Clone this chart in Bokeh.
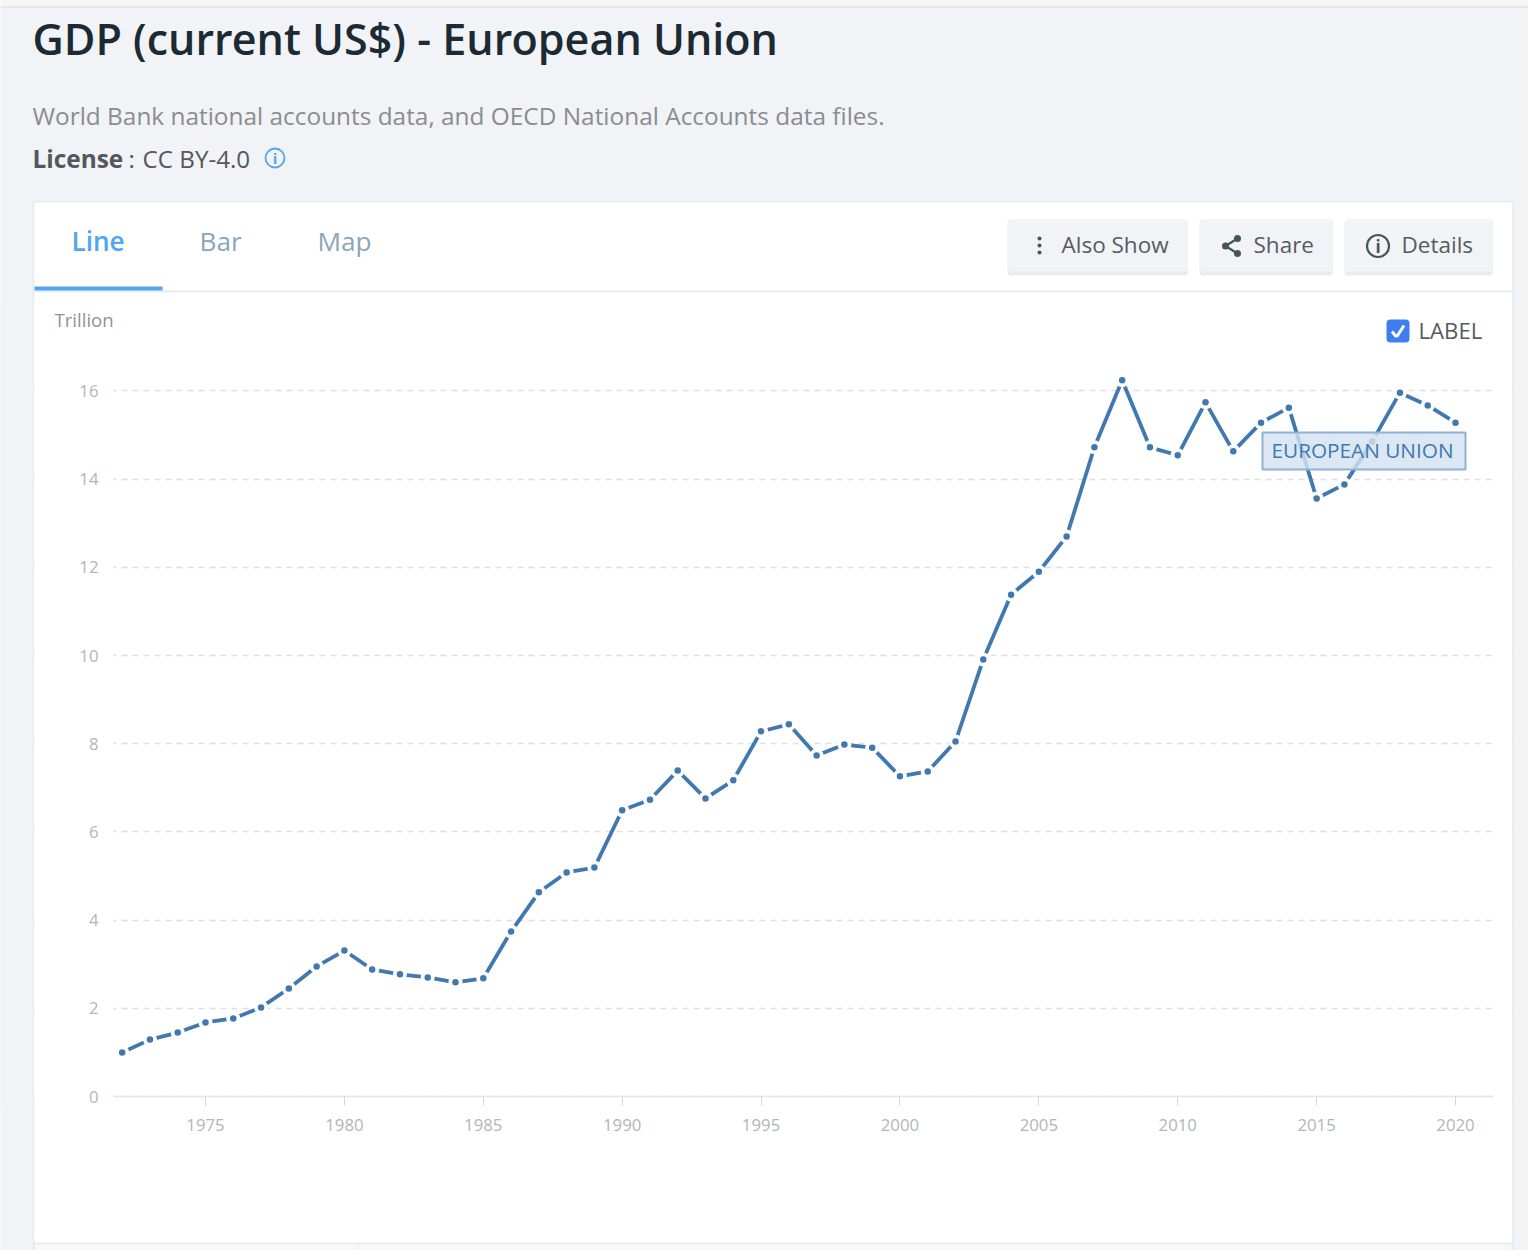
import math
from bokeh.plotting import figure
from bokeh.embed import file_html
from bokeh.resources import INLINE
from bokeh.models import Label, BoxAnnotation, PolyAnnotation, Range1d, FixedTicker, ColumnDataSource

years = list(range(1972, 2021))
gdp_trillion = [1.00, 1.29, 1.45, 1.68, 1.77, 2.02, 2.45, 2.95, 3.31, 2.88,
                2.77, 2.70, 2.59, 2.68, 3.74, 4.63, 5.08, 5.19, 6.49, 6.73,
                7.39, 6.76, 7.17, 8.28, 8.44, 7.73, 7.98, 7.91, 7.26, 7.37,
                8.05, 9.91, 11.38, 11.90, 12.70, 14.72, 16.24, 14.72, 14.54, 15.74,
                14.63, 15.28, 15.62, 13.56, 13.88, 14.85, 15.96, 15.67, 15.28]
x_ticks = [1975, 1980, 1985, 1990, 1995, 2000, 2005, 2010, 2015, 2020]
y_ticks = [0, 2, 4, 6, 8, 10, 12, 14, 16]

FONT = "Open Sans"
W, H = 1528, 1250
PAGE = "#f1f3f7"
LINE = "#4079b0"

# calibration of the plot area, in picture pixels
PX_PER_YEAR = 27.778
PX_PER_UNIT = 44.1
X_1975, Y_0 = 205.0, 1096.0
def yr(px): return 1975 + (px - X_1975) / PX_PER_YEAR
def val(py): return (Y_0 - py) / PX_PER_UNIT

p = figure(width=W, height=H, output_backend="svg", toolbar_location=None,
           x_range=Range1d(yr(0), yr(W)), y_range=Range1d(val(H), val(0)),
           min_border_left=0, min_border_right=0, min_border_top=0, min_border_bottom=0,
           border_fill_color=PAGE, background_fill_color=PAGE, outline_line_color=None)

# ---- chrome ----
def box(l, t, r, b, fill, line=None, lw=1, radius=0, alpha=1.0, level="image"):
    p.add_layout(BoxAnnotation(left=l, right=r, top=t, bottom=b,
                 left_units="canvas", right_units="canvas", top_units="canvas", bottom_units="canvas",
                 fill_color=fill, fill_alpha=alpha if fill else 0, line_color=line, line_alpha=1, line_width=lw,
                 border_radius=int(math.ceil(radius)), level=level, editable=False))

def text(x, y, s, size, color, style="normal", align="left", font=FONT, level="overlay"):
    p.add_layout(Label(x=x-1, y=y-1, x_units="canvas", y_units="canvas", text=s,
                 text_font=font, text_font_size=f"{size}px", text_color=color, text_font_style=style,
                 text_align=align, text_baseline="middle", level=level))

def poly(xs, ys, fill=None, line=None, lw=1.0):
    p.add_layout(PolyAnnotation(xs=xs, ys=ys, xs_units="canvas", ys_units="canvas",
                 fill_color=fill, fill_alpha=1 if fill else 0, line_color=line, line_alpha=1, line_width=lw,
                 level="annotation", editable=False))

def dot(cx, cy, r, fill, line=None, lw=1):
    box(cx-r, cy-r, cx+r, cy+r, fill, line, lw, radius=r, level="annotation")

box(0, 0, W, 6, "#f7f4f5")
box(0, 6, W, 7, "#dcdde1")
box(33, 201, 1512.5, H+5, "#ffffff", "#e6e9ee", 1.5, radius=3)
box(33.5, 1243, 1512, H+5, "#f6f8fa", "#e6e9ee", 1.5)
box(357, 1243, 358, H+5, "#e6e9ee")
box(34, 290, 1512, 292, "#e8ecef")
box(34, 286, 162, 290, "#52a5ef")

# masks that end the grid lines at the plot's own left and right edges
box(0, 301, 32, 1110, PAGE, level="underlay")
box(34, 301, 113, 1110, "#ffffff", level="underlay")
box(1493, 301, 1511.5, 1110, "#ffffff", level="underlay")
box(1513.5, 301, W, 1110, PAGE, level="underlay")

text(33, 39, "GDP (current US$) - European Union", 43.1, "#1b2a33", font="Open Sans SemiBold")
text(33, 116, "World Bank national accounts data, and OECD National Accounts data files.", 24.4, "#8a8d90")
text(33, 159, "License", 24.4, "#52585c", "bold")
text(129, 159, ":", 24.4, "#52585c")
text(143, 159, "CC BY-4.0", 24.2, "#52585c")
dot(274.5, 157.5, 9.5, None, "#52a5ef", 1.8)
text(275.5, 158.5, "i", 15, "#52a5ef", "bold", align="center")

text(72, 241, "Line", 26.2, "#52a5ef", font="Open Sans SemiBold")
text(200, 241, "Bar", 26.2, "#8ba6b8")
text(318, 241, "Map", 26.2, "#8ba6b8")

for l, r in [(1007, 1187.5), (1199, 1332.5), (1344, 1492.5)]:
    box(l, 219, r, 275, "#e9ebef", radius=4)
    box(l, 219, r, 271, "#f1f3f6", radius=4)
for cy in (238, 245, 252):
    dot(1039, cy, 2, "#4b5358")
text(1062, 245, "Also Show", 22.5, "#555c60")
poly([1225, 1237], [245.5, 238], line="#4b5358", lw=2.2)
poly([1225, 1237], [245.5, 253], line="#4b5358", lw=2.2)
dot(1225, 245.5, 3.5, "#4b5358"); dot(1237, 238, 3.5, "#4b5358"); dot(1237, 253, 3.5, "#4b5358")
text(1254, 245, "Share", 22.5, "#555c60")
dot(1377.5, 245.5, 11, None, "#4b5358", 2.2)
text(1378.5, 246.5, "i", 17, "#4b5358", "bold", align="center")
text(1402, 245, "Details", 22.5, "#555c60")

text(55, 320, "Trillion", 18.6, "#8f9295")
box(1386, 319, 1409, 342, "#3f7ef0", radius=4)
poly([1391.5, 1396], [331, 336.5], line="#ffffff", lw=3)
poly([1396, 1403.5], [336.5, 325], line="#ffffff", lw=3)
text(1419, 331, "LABEL", 22.2, "#555c60")

# ---- axes ----
p.xaxis.fixed_location = 0
p.yaxis.fixed_location = yr(113)
p.xaxis.bounds = (yr(113), yr(1493))
p.xaxis.ticker = FixedTicker(ticks=x_ticks)
p.yaxis.ticker = FixedTicker(ticks=y_ticks)
p.xaxis.major_label_text_font = FONT
p.yaxis.major_label_text_font = FONT
p.xaxis.major_label_text_font_size = "16.8px"
p.yaxis.major_label_text_font_size = "16.8px"
p.xaxis.major_label_text_color = "#b3b5b7"
p.yaxis.major_label_text_color = "#b3b5b7"
p.xaxis.axis_line_color = "#e3e7ec"
p.xaxis.axis_line_width = 1.5
p.xaxis.major_tick_line_color = "#d5d7da"
p.xaxis.major_tick_in = 0
p.xaxis.major_tick_out = 9
p.xaxis.minor_tick_line_color = None
p.xaxis.major_label_standoff = 13
p.yaxis.axis_line_color = None
p.yaxis.major_tick_line_color = None
p.yaxis.minor_tick_line_color = None
p.yaxis.major_label_standoff = 9
p.xgrid.grid_line_color = None
p.ygrid.grid_line_color = "#dfe0e2"
p.ygrid.grid_line_dash = "6 5"
p.ygrid.grid_line_width = 1.3

# ---- series ----
src = ColumnDataSource(dict(year=years, gdp=gdp_trillion))
p.line("year", "gdp", source=src, line_color=LINE, line_width=3.8)
p.scatter("year", "gdp", source=src, marker="circle", size=14, fill_color="#ffffff", line_color=None)
p.scatter("year", "gdp", source=src, marker="circle", size=6.5, fill_color=LINE, line_color=None)

box(1262, 432, 1465, 469, "#d3e2f0", "#8fb3d6", 2, alpha=0.82, level="annotation")
text(1363, 450, "EUROPEAN UNION", 20.75, LINE, align="center")

open("out.html", "w").write(file_html(p, INLINE))
